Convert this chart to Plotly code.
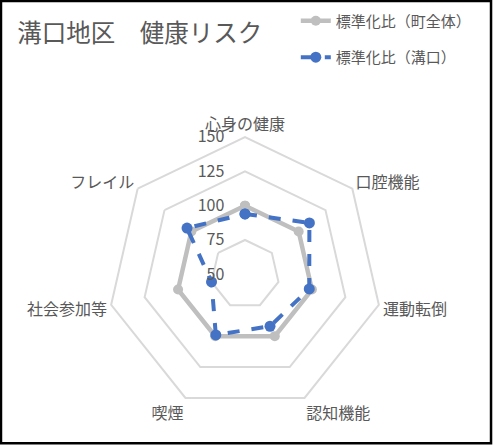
import plotly.graph_objects as go

categories = ['心身の健康', '口腔機能', '運動転倒', '認知機能', '喫煙', '社会参加等', 'フレイル']
town_values = [100, 100, 100, 100, 100, 100, 100]
mizoguchi_values = [94, 110, 98, 92, 99, 75, 104]
tick_values = [50, 75, 100, 125, 150]

font_family = 'Noto Sans CJK JP'
text_color = '#595959'

# invisible padding after each number keeps the labels clear of the axis
tick_text = [f'{v}<span style="color:rgba(255,255,255,0);fill-opacity:0">00</span>' for v in tick_values]

fig = go.Figure()
# close the loop by repeating the first point
fig.add_trace(go.Scatterpolar(
    r=town_values + town_values[:1], theta=categories + categories[:1],
    mode='lines+markers', name='標準化比（町全体）', legendgroup='town',
    line=dict(color='#BFBFBF', width=4.5),
    marker=dict(color='#BFBFBF', size=10)))
fig.add_trace(go.Scatterpolar(
    r=mizoguchi_values + mizoguchi_values[:1], theta=categories + categories[:1],
    mode='lines+markers', name='標準化比（溝口）', legendgroup='mizo',
    line=dict(color='#4472C4', width=4, dash='dash'),
    marker=dict(color='#4472C4', size=11)))

fig.update_layout(
    width=493, height=445,
    margin=dict(l=0, r=0, t=0, b=0),
    paper_bgcolor='white',
    font=dict(family=font_family, color=text_color, size=16),
    title=dict(text='溝口地区　健康リスク', x=0.035, xanchor='left', y=0.925, yanchor='middle',
               font=dict(size=24.5, color=text_color)),
    legend=dict(x=0.6, y=0.99, xanchor='left', yanchor='top', bgcolor='rgba(0,0,0,0)',
                font=dict(size=15, color=text_color), tracegroupgap=14),
    polar=dict(
        domain=dict(x=[0.2184, 0.7755], y=[0.0751, 0.6921]),
        bgcolor='white',
        gridshape='linear',
        radialaxis=dict(range=[50, 150], tickmode='array', tickvals=tick_values, ticktext=tick_text,
                        angle=90, tickangle=90,
                        side='counterclockwise', showline=False, ticks='',
                        gridcolor='#D9D9D9', gridwidth=2,
                        tickfont=dict(size=16, color=text_color)),
        angularaxis=dict(rotation=90, direction='clockwise', showgrid=False,
                         linecolor='#D9D9D9', linewidth=2, ticks='',
                         tickfont=dict(size=16, color=text_color)),
    ),
    shapes=[dict(type='rect', xref='paper', yref='paper', x0=0.002, x1=0.996, y0=0.004, y1=0.998,
                 line=dict(color='black', width=2.5))],
)

# drop the page's default body margin so the figure fills the window
fig.write_html('out.html', config={'displayModeBar': False},
               post_script="document.body.style.margin='0';")
